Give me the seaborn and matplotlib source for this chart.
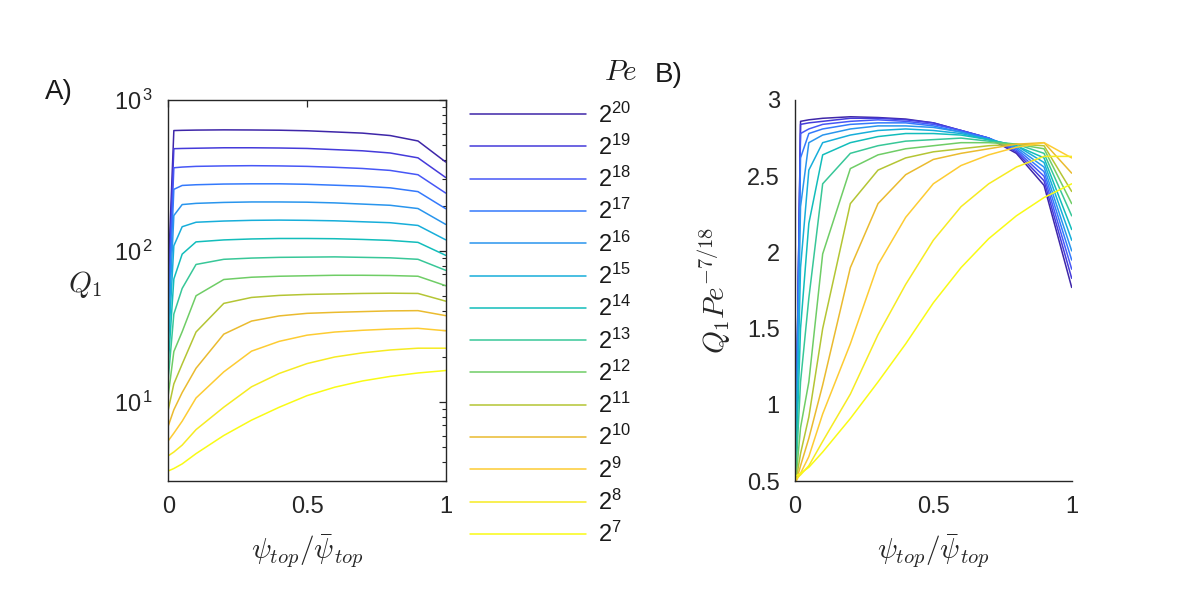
import numpy as np
import pandas as pd
import seaborn as sns
import matplotlib
matplotlib.use("Agg")
import matplotlib.pyplot as plt
from matplotlib.colors import LinearSegmentedColormap
from matplotlib.ticker import LogLocator, FixedLocator, NullFormatter

# ---------------- data ----------------
psi = [0, 0.02, 0.05, 0.1, 0.2, 0.3, 0.4, 0.5, 0.6, 0.7, 0.8, 0.9, 1.0]
pe_exponents = [20, 19, 18, 17, 16, 15, 14, 13, 12, 11, 10, 9, 8, 7]
pe_labels = ["$\\mathregular{2^{%d}}$" % e for e in pe_exponents]

# Q1 * Pe^(-7/18)  (panel B), one list per Peclet number
s_pe20 = [0.33, 2.86, 2.87, 2.88, 2.89, 2.885, 2.875, 2.85, 2.80, 2.75, 2.65, 2.44, 1.77]
s_pe19 = [0.34, 2.84, 2.85, 2.86, 2.88, 2.88, 2.87, 2.85, 2.80, 2.75, 2.66, 2.47, 1.83]
s_pe18 = [0.36, 2.78, 2.81, 2.84, 2.86, 2.87, 2.86, 2.84, 2.80, 2.75, 2.67, 2.50, 1.89]
s_pe17 = [0.37, 2.62, 2.78, 2.81, 2.84, 2.85, 2.85, 2.83, 2.79, 2.75, 2.68, 2.53, 1.95]
s_pe16 = [0.38, 2.30, 2.72, 2.77, 2.81, 2.83, 2.83, 2.82, 2.79, 2.74, 2.69, 2.56, 2.01]
s_pe15 = [0.40, 1.90, 2.54, 2.72, 2.77, 2.80, 2.81, 2.80, 2.78, 2.74, 2.70, 2.59, 2.08]
s_pe14 = [0.41, 1.50, 2.19, 2.64, 2.72, 2.76, 2.78, 2.78, 2.77, 2.74, 2.70, 2.62, 2.15]
s_pe13 = [0.43, 1.15, 1.70, 2.45, 2.65, 2.70, 2.73, 2.74, 2.75, 2.73, 2.71, 2.65, 2.24]
s_pe12 = [0.44, 0.85, 1.15, 1.99, 2.55, 2.64, 2.68, 2.70, 2.72, 2.72, 2.71, 2.68, 2.32]
s_pe11 = [0.46, 0.68, 0.92, 1.50, 2.32, 2.54, 2.62, 2.66, 2.68, 2.70, 2.71, 2.70, 2.40]
s_pe10 = [0.47, 0.60, 0.78, 1.13, 1.90, 2.32, 2.51, 2.61, 2.65, 2.68, 2.71, 2.72, 2.52]
s_pe9 = [0.49, 0.55, 0.66, 0.94, 1.40, 1.92, 2.23, 2.45, 2.57, 2.64, 2.69, 2.72, 2.62]
s_pe8 = [0.51, 0.54, 0.60, 0.76, 1.07, 1.46, 1.79, 2.08, 2.30, 2.45, 2.56, 2.63, 2.63]
s_pe7 = [0.53, 0.55, 0.59, 0.69, 0.91, 1.15, 1.40, 1.67, 1.90, 2.09, 2.24, 2.36, 2.45]

scaled = [s_pe20, s_pe19, s_pe18, s_pe17, s_pe16, s_pe15, s_pe14,
          s_pe13, s_pe12, s_pe11, s_pe10, s_pe9, s_pe8, s_pe7]

rows = []
for e, lab, s in zip(pe_exponents, pe_labels, scaled):
    pe = 2.0 ** e
    for x, v in zip(psi, s):
        rows.append({"psi": x, "Pe": lab, "scaled": v, "Q1": v * pe ** (7 / 18)})
df = pd.DataFrame(rows)

# ---------------- colours: MATLAB parula ----------------
parula_pts = [
    (0.2422, 0.1504, 0.6603), (0.2647, 0.1978, 0.7952), (0.2783, 0.2559, 0.8991),
    (0.2810, 0.3228, 0.9579), (0.2602, 0.4123, 0.9952), (0.1963, 0.4847, 0.9892),
    (0.1764, 0.5499, 0.9520), (0.1380, 0.6276, 0.8973), (0.0952, 0.6798, 0.8598),
    (0.0036, 0.7203, 0.7917), (0.0964, 0.7500, 0.7120), (0.1938, 0.7758, 0.6251),
    (0.2906, 0.7973, 0.5188), (0.4456, 0.8024, 0.3909), (0.6174, 0.7876, 0.2612),
    (0.7738, 0.7598, 0.1646), (0.9035, 0.7330, 0.1774), (0.9956, 0.7434, 0.2371),
    (0.9892, 0.8136, 0.1885), (0.9610, 0.8890, 0.1537), (0.9691, 0.9606, 0.1064),
    (0.9769, 0.9839, 0.0805)]
parula = LinearSegmentedColormap.from_list("parula", parula_pts)
colors = [parula(i / 13) for i in range(14)]
palette = dict(zip(pe_labels, colors))

# ---------------- style ----------------
sns.set_style("white")
plt.rcParams.update({
    "font.family": ["Liberation Sans", "DejaVu Sans"],
    "mathtext.fontset": "custom",
    "mathtext.rm": "Liberation Sans",
    "mathtext.it": "Liberation Sans:italic",
    "mathtext.default": "it",
    "xtick.direction": "in",
    "ytick.direction": "in",
    "axes.edgecolor": "#262626",
    "axes.linewidth": 1.0,
    "xtick.color": "#262626",
    "ytick.color": "#262626",
    "text.color": "#1a1a1a",
})

fig = plt.figure(figsize=(12, 6), dpi=100)
W, H = 1200, 600
def rect(x0, x1, y0, y1):
    return [x0 / W, 1 - y1 / H, (x1 - x0) / W, (y1 - y0) / H]

axA = fig.add_axes(rect(168.3, 445.7, 100, 481))
axB = fig.add_axes(rect(795, 1071.7, 100, 481))

sns.lineplot(data=df, x="psi", y="Q1", hue="Pe", hue_order=pe_labels,
             palette=palette, sort=False, estimator=None, linewidth=1.1,
             legend=False, ax=axA)
sns.lineplot(data=df, x="psi", y="scaled", hue="Pe", hue_order=pe_labels,
             palette=palette, sort=False, estimator=None, linewidth=1.1,
             legend=False, ax=axB)

tick_fs = 17
lab_fs = 21

# panel A
axA.set_yscale("log")
axA.set_xlim(0, 1)
axA.set_ylim(3, 1000)
axA.set_xticks([0, 0.5, 1])
axA.set_xticklabels(["0", "0.5", "1"])
axA.yaxis.set_major_locator(FixedLocator([10, 100, 1000]))
axA.yaxis.set_minor_locator(LogLocator(base=10, subs=np.arange(2, 10)))
axA.yaxis.set_minor_formatter(NullFormatter())
axA.set_yticklabels(["$\\mathregular{10^{\\,1}}$", "$\\mathregular{10^{\\,2}}$",
                     "$\\mathregular{10^{\\,3}}$"])
axA.tick_params(which="both", top=True, right=True, labelsize=tick_fs)
axA.tick_params(which="major", length=5, width=0.9, pad=11)
axA.tick_params(which="minor", length=3, width=0.8)
for s in axA.spines.values():
    s.set_visible(True)
axA.set_xlabel(r"$\psi_{top}/\bar{\psi}_{top}$", fontsize=lab_fs, math_fontfamily="cm")
axA.xaxis.set_label_coords(0.5, -0.135)
axA.set_ylabel(r"$Q_1$", fontsize=lab_fs, math_fontfamily="cm", rotation=0,
               ha="center", va="center")
axA.yaxis.set_label_coords(-0.30, 0.515)

# panel B
axB.set_xlim(0, 1)
axB.set_ylim(0.5, 3)
axB.set_xticks([0, 0.5, 1])
axB.set_xticklabels(["0", "0.5", "1"])
axB.set_yticks([0.5, 1, 1.5, 2, 2.5, 3])
axB.set_yticklabels(["0.5", "1", "1.5", "2", "2.5", "3"])
axB.tick_params(which="both", labelsize=tick_fs, length=5, width=0.9, pad=11)
axB.spines["top"].set_visible(False)
axB.spines["right"].set_visible(False)
axB.set_xlabel(r"$\psi_{top}/\bar{\psi}_{top}$", fontsize=lab_fs, math_fontfamily="cm")
axB.xaxis.set_label_coords(0.5, -0.135)
axB.set_ylabel(r"$Q_1Pe^{-7/18}$", fontsize=lab_fs, math_fontfamily="cm",
               va="center", ha="center")
axB.yaxis.set_label_coords(-0.29, 0.50)

# legend built from the drawn lines of panel A
handles = axA.get_lines()[:14]
leg = fig.legend(handles, pe_labels, loc="upper left",
                 bbox_to_anchor=(449 / W, 1 - 81 / H), frameon=False,
                 fontsize=tick_fs, handlelength=4.9, handletextpad=0.5,
                 labelspacing=0.30)
fig.text(637 / W, 1 - 72 / H, "$Pe$", fontsize=lab_fs, math_fontfamily="cm",
         ha="right", va="center")

fig.text(45 / W, 1 - 92 / H, "A)", fontsize=20, va="center", ha="left")
fig.text(655 / W, 1 - 75 / H, "B)", fontsize=20, va="center", ha="left")

fig.savefig("out.png", dpi=100, facecolor="white")
